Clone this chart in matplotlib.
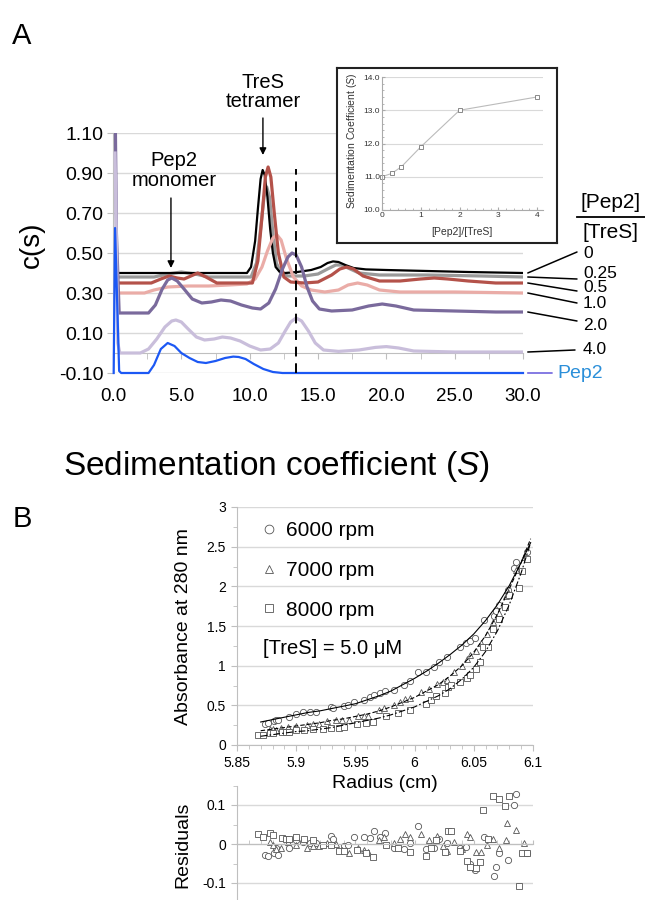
import matplotlib
matplotlib.use("Agg")
import matplotlib.pyplot as plt
import numpy as np
from matplotlib.lines import Line2D
from matplotlib.ticker import MultipleLocator, FuncFormatter

plt.rcParams["font.family"] = ["Liberation Sans", "DejaVu Sans"]
plt.rcParams["mathtext.fontset"] = "custom"
plt.rcParams["mathtext.rm"] = "Liberation Sans"
plt.rcParams["mathtext.it"] = "Liberation Sans:italic"

# ---------------- panel A: c(s) distributions ----------------
s_0 = [0.5, 9.8, 10.1, 10.4, 10.6, 10.8, 10.95, 11.1, 11.3, 11.5, 11.7, 11.9, 12.2, 12.6,
       13.5, 14.5, 15.2, 15.7, 16.1, 16.5, 17.0, 17.6, 18.5, 20, 23, 26, 30]
c_0 = [0.40, 0.40, 0.43, 0.56, 0.72, 0.87, 0.915, 0.89, 0.78, 0.62, 0.50, 0.43, 0.405, 0.40,
       0.405, 0.415, 0.43, 0.45, 0.458, 0.455, 0.44, 0.425, 0.418, 0.415, 0.41, 0.405, 0.40]

s_025 = [0.5, 3.0, 4.0, 5.0, 6.0, 7.0, 10.1, 10.5, 10.8, 11.05, 11.25, 11.45, 11.7, 11.95,
         12.3, 12.8, 14.0, 15.0, 15.7, 16.3, 16.7, 17.2, 18.0, 19.5, 23, 27, 30]
c_025 = [0.38, 0.38, 0.395, 0.405, 0.395, 0.38, 0.38, 0.45, 0.62, 0.78, 0.83, 0.78, 0.60, 0.45,
         0.40, 0.385, 0.385, 0.395, 0.42, 0.44, 0.44, 0.425, 0.40, 0.39, 0.39, 0.385, 0.38]

s_05 = [0.5, 2.8, 3.5, 4.1, 4.7, 5.2, 5.7, 6.2, 6.8, 7.6, 10.2, 10.6, 10.9, 11.15, 11.35,
        11.55, 11.8, 12.1, 12.5, 13.0, 14.0, 15.0, 16.0, 16.6, 17.1, 17.6, 18.3, 19.5, 21.0,
        22.5, 23.5, 24.5, 26.0, 28.0, 30.0]
c_05 = [0.35, 0.35, 0.37, 0.385, 0.375, 0.37, 0.385, 0.40, 0.38, 0.35, 0.35, 0.46, 0.68, 0.88,
        0.93, 0.88, 0.70, 0.50, 0.38, 0.355, 0.35, 0.355, 0.39, 0.42, 0.43, 0.42, 0.385, 0.36,
        0.36, 0.37, 0.375, 0.37, 0.36, 0.35, 0.35]

s_10 = [0.5, 2.3, 3.0, 4.0, 5.5, 7.0, 8.5, 9.8, 10.4, 10.9, 11.3, 11.7, 12.0, 12.3, 12.7,
        13.2, 13.8, 14.5, 15.5, 16.5, 17.2, 17.9, 18.6, 19.5, 21, 25, 30]
c_10 = [0.30, 0.30, 0.315, 0.33, 0.335, 0.335, 0.34, 0.345, 0.37, 0.43, 0.51, 0.575, 0.59,
        0.565, 0.47, 0.38, 0.335, 0.315, 0.305, 0.315, 0.34, 0.35, 0.34, 0.315, 0.305, 0.305, 0.30]

s_20 = [0.15, 0.25, 0.45, 2.6, 3.1, 3.6, 4.0, 4.3, 4.7, 5.2, 5.8, 6.5, 7.2, 7.9, 8.6, 9.4,
        10.2, 10.8, 11.4, 11.9, 12.4, 12.8, 13.1, 13.4, 13.8, 14.2, 14.6, 15.1, 16.0, 17.5,
        18.7, 19.7, 20.7, 22.0, 25.0, 28.0, 30.0]
c_20 = [1.30, 0.60, 0.20, 0.20, 0.24, 0.32, 0.365, 0.375, 0.36, 0.32, 0.27, 0.25, 0.255, 0.265,
        0.26, 0.24, 0.225, 0.22, 0.25, 0.32, 0.42, 0.48, 0.50, 0.49, 0.43, 0.33, 0.26, 0.22,
        0.21, 0.215, 0.235, 0.245, 0.235, 0.215, 0.21, 0.205, 0.205]

s_40 = [0.15, 0.22, 0.35, 0.5, 2.0, 2.6, 3.2, 3.8, 4.3, 4.6, 5.0, 5.5, 6.1, 6.7, 7.4, 8.0,
        8.6, 9.3, 10.0, 10.8, 11.5, 12.1, 12.6, 13.0, 13.4, 13.8, 14.3, 14.8, 15.4, 16.5,
        18.0, 19.2, 20.0, 20.9, 22.0, 25.0, 30.0]
c_40 = [1.00, 0.70, 0.05, 0.00, 0.00, 0.02, 0.07, 0.13, 0.16, 0.165, 0.155, 0.12, 0.08, 0.065,
        0.07, 0.08, 0.075, 0.06, 0.035, 0.015, 0.02, 0.05, 0.11, 0.155, 0.175, 0.16, 0.11,
        0.05, 0.015, 0.008, 0.015, 0.028, 0.032, 0.025, 0.01, 0.005, 0.005]

s_pep = [0.05, 0.15, 0.45, 0.6, 2.6, 3.0, 3.5, 4.0, 4.5, 5.0, 5.6, 6.2, 6.8, 7.5, 8.2, 8.8,
         9.2, 9.7, 10.3, 11.0, 11.7, 12.4, 13.5, 20, 30]
c_pep = [-0.10, 0.625, -0.09, -0.10, -0.10, -0.06, 0.02, 0.05, 0.035, 0.00, -0.025, -0.045,
         -0.05, -0.04, -0.025, -0.018, -0.02, -0.03, -0.055, -0.08, -0.095, -0.10, -0.10,
         -0.10, -0.10]

dashed_s = 13.4

# inset: peak position vs ratio
ratio = [0, 0.25, 0.5, 1, 2, 4]
s_peak = [11.0, 11.1, 11.3, 11.9, 13.0, 13.4]

# ---------------- panel B: equilibrium scans ----------------
fit_r = [5.87, 5.88, 5.89, 5.90, 5.91, 5.92, 5.93, 5.94, 5.95, 5.96, 5.97, 5.98, 5.99, 6.00,
         6.01, 6.02, 6.03, 6.04, 6.05, 6.06, 6.07, 6.08, 6.09, 6.098]
fit_6000 = [0.29, 0.32, 0.35, 0.38, 0.41, 0.43, 0.46, 0.49, 0.52, 0.57, 0.62, 0.68, 0.76, 0.84,
            0.93, 1.03, 1.14, 1.26, 1.40, 1.57, 1.77, 2.01, 2.30, 2.55]
fit_7000 = [0.18, 0.20, 0.22, 0.24, 0.26, 0.28, 0.31, 0.33, 0.36, 0.39, 0.43, 0.48, 0.54, 0.60,
            0.68, 0.76, 0.87, 1.00, 1.17, 1.38, 1.65, 1.97, 2.30, 2.60]
fit_8000 = [0.11, 0.13, 0.15, 0.17, 0.18, 0.20, 0.22, 0.25, 0.28, 0.31, 0.34, 0.38, 0.43, 0.48,
            0.55, 0.62, 0.71, 0.83, 0.98, 1.18, 1.44, 1.77, 2.17, 2.55]

r_6000 = [5.874, 5.876, 5.881, 5.883, 5.885, 5.894, 5.900, 5.906, 5.912, 5.917, 5.929, 5.931,
          5.940, 5.944, 5.949, 5.957, 5.962, 5.966, 5.971, 5.975, 5.983, 5.991, 5.996, 6.003,
          6.010, 6.016, 6.021, 6.027, 6.038, 6.043, 6.047, 6.051, 6.059, 6.067, 6.069, 6.071,
          6.079, 6.084, 6.086, 6.095]
a_6000 = [0.27, 0.28, 0.30, 0.32, 0.31, 0.35, 0.39, 0.41, 0.41, 0.42, 0.48, 0.47, 0.49, 0.50,
          0.54, 0.57, 0.60, 0.63, 0.65, 0.68, 0.69, 0.76, 0.81, 0.92, 0.92, 0.98, 1.05, 1.11,
          1.23, 1.29, 1.31, 1.35, 1.57, 1.63, 1.69, 1.77, 1.95, 2.23, 2.31, 2.43]
res_6000 = [-0.028, -0.031, -0.022, -0.011, -0.028, -0.009, 0.010, 0.006, 0.002, 0.003, 0.020,
            0.012, -0.005, -0.003, 0.017, 0.017, 0.015, 0.034, 0.017, 0.029, -0.011, -0.014,
            0.002, 0.047, -0.014, -0.011, 0.012, 0.002, -0.011, -0.007, -0.050, -0.067, 0.017,
            -0.082, -0.058, -0.024, -0.041, 0.100, 0.128, -0.022]

r_7000 = [5.878, 5.880, 5.883, 5.887, 5.893, 5.900, 5.909, 5.914, 5.919, 5.926, 5.934, 5.939,
          5.945, 5.952, 5.957, 5.961, 5.970, 5.974, 5.983, 5.988, 5.992, 5.996, 6.005, 6.012,
          6.019, 6.024, 6.027, 6.033, 6.040, 6.044, 6.047, 6.052, 6.056, 6.061, 6.066, 6.071,
          6.077, 6.078, 6.086, 6.092]
a_7000 = [0.20, 0.20, 0.19, 0.21, 0.23, 0.24, 0.25, 0.26, 0.27, 0.30, 0.32, 0.31, 0.32, 0.36,
          0.37, 0.37, 0.44, 0.47, 0.50, 0.54, 0.58, 0.59, 0.67, 0.71, 0.77, 0.80, 0.82, 0.92,
          0.99, 1.09, 1.14, 1.19, 1.28, 1.40, 1.55, 1.67, 1.88, 1.96, 2.20, 2.37]
res_7000 = [0.004, -0.003, -0.014, -0.009, 0.006, -0.003, -0.011, -0.006, -0.005, 0.002, 0.000,
            -0.015, -0.022, -0.009, -0.015, -0.020, 0.010, 0.017, 0.003, 0.012, 0.026, 0.017,
            0.026, 0.009, 0.020, -0.005, -0.017, 0.006, -0.012, 0.026, 0.017, -0.020, -0.020,
            -0.003, 0.012, -0.010, 0.010, 0.055, 0.036, 0.002]

r_8000 = [5.868, 5.872, 5.878, 5.880, 5.888, 5.891, 5.894, 5.900, 5.907, 5.914, 5.923, 5.929,
          5.936, 5.940, 5.951, 5.959, 5.965, 5.976, 5.986, 5.996, 6.010, 6.014, 6.018, 6.026,
          6.028, 6.031, 6.038, 6.044, 6.047, 6.052, 6.055, 6.058, 6.062, 6.066, 6.071, 6.076,
          6.080, 6.088, 6.091, 6.095]
a_8000 = [0.13, 0.13, 0.15, 0.15, 0.16, 0.17, 0.17, 0.19, 0.19, 0.20, 0.20, 0.22, 0.22, 0.23,
          0.27, 0.28, 0.29, 0.36, 0.40, 0.44, 0.52, 0.57, 0.62, 0.65, 0.73, 0.76, 0.79, 0.85,
          0.88, 0.96, 1.04, 1.23, 1.24, 1.46, 1.59, 1.74, 1.89, 1.98, 2.19, 2.34]
res_8000 = [0.026, 0.017, 0.027, 0.023, 0.015, 0.014, 0.012, 0.017, 0.012, 0.010, -0.003, -0.002,
            -0.017, -0.017, -0.015, -0.024, -0.034, -0.003, -0.011, -0.020, -0.031, -0.009,
            0.010, -0.020, 0.034, 0.034, -0.017, -0.044, -0.060, -0.061, -0.045, 0.087, 0.012,
            0.123, 0.115, 0.097, 0.123, -0.108, -0.024, -0.022]

W, H = 645, 900


def box(left, top, right, bottom):
    # pixel box -> figure fraction [l, b, w, h]
    return [left / W, 1 - bottom / H, (right - left) / W, (bottom - top) / H]


def fx(px):
    return px / W


def fy(py):
    return 1 - py / H


GRID = "#d9d9d9"
AXC = "#bfbfbf"

fig = plt.figure(figsize=(6.45, 9), dpi=100)

# ---- panel A main ----
ax = fig.add_axes(box(113, 133, 523, 373))
ax.set_xlim(0, 30)
ax.set_ylim(-0.10, 1.10)
ax.spines["top"].set_visible(False)
ax.spines["right"].set_visible(False)
ax.spines["left"].set_color(AXC)
ax.spines["bottom"].set_position(("data", 0))
ax.spines["bottom"].set_color(AXC)
ax.set_yticks(np.arange(-0.10, 1.11, 0.2))
ax.yaxis.set_major_formatter(FuncFormatter(lambda v, p: f"{v:.2f}"))
ax.xaxis.set_major_locator(MultipleLocator(5))
ax.xaxis.set_minor_locator(MultipleLocator(2.5))
ax.xaxis.set_major_formatter(FuncFormatter(lambda v, p: f"{v:.1f}"))
ax.tick_params(axis="x", which="both", direction="out", length=4, color=AXC,
               labelsize=13.5, pad=21)
ax.tick_params(axis="y", direction="out", length=4, color=AXC, labelsize=14, pad=3)
ax.yaxis.grid(True, color=GRID, lw=1)
ax.set_axisbelow(True)

ax.plot(s_025, c_025, color="#9a9a9a", lw=2.3, zorder=2)
ax.plot(s_0, c_0, color="black", lw=1.6, zorder=3)
ax.plot(s_10, c_10, color="#eaaca7", lw=2.3, zorder=3.5)
ax.plot(s_05, c_05, color="#b4524a", lw=2.3, zorder=4)
ax.plot(s_20, c_20, color="#7a6a9c", lw=2.3, zorder=5)
ax.plot(s_40, c_40, color="#c9bedb", lw=2.3, zorder=6)
ax.plot(s_pep, c_pep, color="#1c58f4", lw=1.6, zorder=7, clip_on=False)
ax.vlines(dashed_s, -0.10, 0.92, colors="black", linestyles=(0, (5, 3.5)), lw=1.4, zorder=8)

ax.annotate("", xy=(10.97, 0.99), xytext=(10.97, 1.175), annotation_clip=False,
            arrowprops=dict(arrowstyle="-|>", color="black", lw=1, mutation_scale=10,
                            shrinkA=0, shrinkB=0))
ax.text(10.97, 1.305, "TreS\ntetramer", ha="center", va="center", fontsize=14.5,
        linespacing=0.95, clip_on=False)
ax.annotate("", xy=(4.24, 0.425), xytext=(4.24, 0.775), annotation_clip=False,
            arrowprops=dict(arrowstyle="-|>", color="black", lw=1, mutation_scale=10,
                            shrinkA=0, shrinkB=0))
ax.text(4.45, 0.9125, "Pep2\nmonomer", ha="center", va="center", fontsize=14.5,
        linespacing=1.05)

# ratio labels on the right
fig.text(fx(611), fy(203), "[Pep2]", ha="center", va="center", fontsize=15)
fig.add_artist(Line2D([fx(577), fx(645)], [fy(217), fy(217)], color="black", lw=1.3))
fig.text(fx(611), fy(232), "[TreS]", ha="center", va="center", fontsize=15)

ratio_labels = ["0", "0.25", "0.5", "1.0", "2.0", "4.0"]
label_y = [253, 273, 288, 303, 325, 350]
leader_end = [(577, 252), (577, 279), (577, 291), (577, 303), (577, 321), (575, 350)]
curve_end = [c_0[-1], c_025[-1], c_05[-1], c_10[-1], c_20[-1], c_40[-1]]
for lab, ly, (ex, ey), ce in zip(ratio_labels, label_y, leader_end, curve_end):
    fig.text(fx(583), fy(ly), lab, ha="left", va="center", fontsize=12.5)
    ax.annotate("", xy=(ex, H - ey), xycoords="figure pixels", xytext=(30.35, ce),
                textcoords="data", annotation_clip=False,
                arrowprops=dict(arrowstyle="-", color="black", lw=1.1, shrinkA=0, shrinkB=0))
ax.annotate("", xy=(552, H - 373), xycoords="figure pixels", xytext=(30.35, c_pep[-1]),
            textcoords="data", annotation_clip=False,
            arrowprops=dict(arrowstyle="-", color="#7b6fe0", lw=1.3, shrinkA=0, shrinkB=0))
fig.text(fx(557), fy(373), "Pep2", ha="left", va="center", fontsize=14, color="#2b8fd9")

fig.text(fx(22), fy(36), "A", ha="center", va="center", fontsize=21)
fig.text(fx(32), fy(245), "c(s)", ha="center", va="center", rotation=90, fontsize=20)
fig.text(fx(276), fy(467), "Sedimentation coefficient ($\\mathit{S}$)", ha="center",
         va="center", fontsize=24)

# ---- inset ----
frame = fig.add_axes(box(337, 68, 557, 243), zorder=3)
frame.set_xticks([])
frame.set_yticks([])
for sp in frame.spines.values():
    sp.set_linewidth(1.5)
    sp.set_color("#222222")

ins = fig.add_axes(box(382, 77, 543, 210), zorder=4)
ins.patch.set_alpha(0)
ins.set_xlim(0, 4.15)
ins.set_ylim(10, 14)
ins.spines["top"].set_visible(False)
ins.spines["right"].set_visible(False)
ins.spines["left"].set_color("#aaaaaa")
ins.spines["bottom"].set_color("#aaaaaa")
ins.set_xticks([0, 1, 2, 3, 4])
ins.set_yticks([10, 11, 12, 13, 14])
ins.yaxis.set_major_formatter(FuncFormatter(lambda v, p: f"{v:.1f}"))
ins.xaxis.set_minor_locator(MultipleLocator(0.2))
ins.yaxis.set_minor_locator(MultipleLocator(0.2))
ins.tick_params(which="both", direction="in", color="#aaaaaa", labelsize=6, pad=1.5,
                labelcolor="#333333")
ins.tick_params(which="major", length=2.5)
ins.tick_params(which="minor", length=1.5)
ins.yaxis.grid(True, color=GRID, lw=0.8)
ins.set_axisbelow(True)
ins.plot(ratio, s_peak, color="#bbbbbb", lw=0.8, marker="s", ms=3, mfc="white",
         mec="#777777", mew=0.6, clip_on=False)
fig.text(fx(352), fy(141), "Sedimentation Coefficient ($\\mathit{S}$)", rotation=90,
         ha="center", va="center", fontsize=7.5, color="#333333", zorder=5)
fig.text(fx(462), fy(232), "[Pep2]/[TreS]", ha="center", va="center", fontsize=7.5,
         color="#333333", zorder=5)

# ---- panel B ----
fmt_g = FuncFormatter(lambda v, p: f"{v:g}")
axb = fig.add_axes(box(237, 507, 533, 745))
axb.set_xlim(5.85, 6.1)
axb.set_ylim(0, 3)
axb.spines["top"].set_visible(False)
axb.spines["right"].set_visible(False)
axb.spines["left"].set_color(AXC)
axb.spines["bottom"].set_color(AXC)
axb.xaxis.set_major_locator(MultipleLocator(0.05))
axb.xaxis.set_minor_locator(MultipleLocator(0.01))
axb.yaxis.set_major_locator(MultipleLocator(0.5))
axb.yaxis.set_minor_locator(MultipleLocator(0.25))
axb.xaxis.set_major_formatter(fmt_g)
axb.yaxis.set_major_formatter(fmt_g)
axb.tick_params(which="both", direction="out", color=AXC, labelsize=10)
axb.tick_params(which="major", length=4, pad=4)
axb.tick_params(which="minor", length=3)
axb.yaxis.grid(True, color=GRID, lw=1)
axb.set_axisbelow(True)

mk = dict(linestyle="none", mfc="white", mec="#555555", mew=0.6)
axb.plot(fit_r, fit_6000, color="black", lw=0.8, zorder=3)
axb.plot(fit_r, fit_7000, color="black", lw=0.8, dashes=(4, 2), zorder=3)
axb.plot(fit_r, fit_8000, color="black", lw=0.8, dashes=(6, 2, 1.5, 2), zorder=3)
h1, = axb.plot(r_6000, a_6000, marker="o", ms=4.5, label="6000 rpm", zorder=2, **mk)
h2, = axb.plot(r_7000, a_7000, marker="^", ms=4.5, label="7000 rpm", zorder=2, **mk)
h3, = axb.plot(r_8000, a_8000, marker="s", ms=4.2, label="8000 rpm", zorder=2, **mk)
axb.legend(handles=[h1, h2, h3], loc="upper left", bbox_to_anchor=(0.088, 0.941),
           frameon=False, fontsize=15, markerscale=1.4, handlelength=0.6,
           handletextpad=0.5, labelspacing=1.0, borderpad=0, borderaxespad=0)
axb.text(5.872, 1.22, "[TreS] = 5.0 μM", ha="left", va="center", fontsize=14.5)

fig.text(fx(22), fy(519), "B", ha="center", va="center", fontsize=21)
fig.text(fx(183), fy(627), "Absorbance at 280 nm", rotation=90, ha="center", va="center",
         fontsize=14)
fig.text(fx(385), fy(783), "Radius (cm)", ha="center", va="center", fontsize=14)

# ---- residuals ----
axr = fig.add_axes(box(237, 785.5, 533, 898.6))
axr.set_xlim(5.85, 6.1)
axr.set_ylim(-0.14, 0.15)
axr.spines["top"].set_visible(False)
axr.spines["right"].set_visible(False)
axr.spines["left"].set_color(AXC)
axr.spines["bottom"].set_position(("data", 0))
axr.spines["bottom"].set_color(AXC)
axr.xaxis.set_major_locator(MultipleLocator(0.05))
axr.xaxis.set_minor_locator(MultipleLocator(0.01))
axr.set_yticks([-0.1, 0, 0.1])
axr.yaxis.set_minor_locator(MultipleLocator(0.05))
axr.yaxis.set_major_formatter(fmt_g)
axr.tick_params(axis="x", which="both", direction="in", length=3, color=AXC,
                labelbottom=False)
axr.tick_params(axis="y", which="both", direction="out", color=AXC, labelsize=10)
axr.tick_params(axis="y", which="major", length=4, pad=4)
axr.tick_params(axis="y", which="minor", length=3)
axr.yaxis.grid(True, color=GRID, lw=1)
axr.set_axisbelow(True)
axr.plot(r_6000, res_6000, marker="o", ms=4.5, **mk)
axr.plot(r_7000, res_7000, marker="^", ms=4.5, **mk)
axr.plot(r_8000, res_8000, marker="s", ms=4.2, **mk)
fig.text(fx(183), fy(845), "Residuals", rotation=90, ha="center", va="center", fontsize=14)

fig.savefig("out.png", dpi=100)
